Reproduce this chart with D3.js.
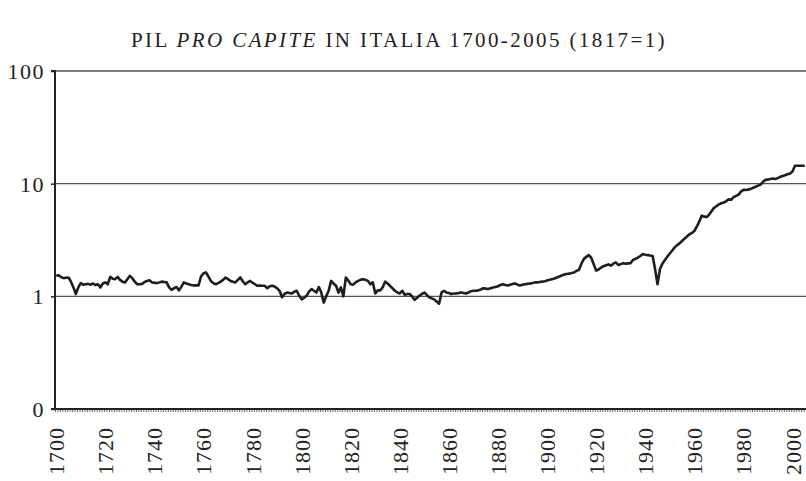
<!DOCTYPE html>
<html><head><meta charset="utf-8">
<script src="https://cdn.jsdelivr.net/npm/d3@7"></script>
<style>body{margin:0;background:#fff}svg{display:block}</style>
</head><body>
<svg id="c" width="806" height="481"></svg>
<script>
const startYear = 1700;
const endYear = 2005;
const labelYears = [1700,1720,1740,1760,1780,1800,1820,1840,1860,1880,1900,1920,1940,1960,1980,2000];
const yTickValues = [0.1, 1, 10, 100];
const yTickLabels = ["0", "1", "10", "100"];
const gdp = [
 1.52,1.54,1.48,1.45,1.46,1.47,1.35,1.2,1.05,1.2,      // 1700
 1.31,1.27,1.28,1.29,1.27,1.30,1.26,1.28,1.2,1.3,      // 1710
 1.33,1.28,1.49,1.43,1.42,1.49,1.40,1.35,1.33,1.42,    // 1720
 1.52,1.45,1.35,1.28,1.28,1.29,1.34,1.37,1.39,1.33,    // 1730
 1.32,1.31,1.33,1.35,1.34,1.33,1.2,1.14,1.18,1.21,     // 1740
 1.13,1.22,1.33,1.3,1.28,1.26,1.25,1.25,1.25,1.5,      // 1750
 1.6,1.63,1.5,1.37,1.31,1.28,1.31,1.35,1.40,1.47,      // 1760
 1.42,1.37,1.35,1.33,1.4,1.47,1.36,1.28,1.33,1.37,     // 1770
 1.32,1.28,1.24,1.25,1.24,1.24,1.18,1.23,1.24,1.22,    // 1780
 1.18,1.12,0.98,1.05,1.08,1.07,1.06,1.1,1.12,1.01,     // 1790
 0.94,0.97,1.01,1.1,1.16,1.12,1.08,1.21,1.08,0.88,     // 1800
 1.0,1.12,1.37,1.3,1.24,1.08,1.2,1.0,1.47,1.38,        // 1810
 1.28,1.27,1.33,1.37,1.40,1.42,1.40,1.37,1.28,1.33,    // 1820
 1.06,1.13,1.13,1.2,1.35,1.3,1.24,1.18,1.12,1.08,      // 1830
 1.06,1.12,1.03,1.05,1.05,1.0,0.93,0.97,1.01,1.05,     // 1840
 1.08,1.03,0.98,0.96,0.94,0.9,0.86,1.08,1.12,1.08,     // 1850
 1.07,1.05,1.06,1.06,1.07,1.08,1.07,1.06,1.08,1.11,    // 1860
 1.12,1.12,1.13,1.15,1.18,1.17,1.16,1.18,1.20,1.21,    // 1870
 1.23,1.26,1.28,1.26,1.25,1.27,1.29,1.30,1.27,1.25,    // 1880
 1.27,1.28,1.29,1.3,1.31,1.33,1.33,1.34,1.35,1.36,     // 1890
 1.38,1.40,1.42,1.44,1.47,1.50,1.53,1.56,1.58,1.59,    // 1900
 1.61,1.63,1.68,1.72,1.95,2.15,2.24,2.32,2.2,1.93,     // 1910
 1.69,1.73,1.80,1.85,1.89,1.92,1.87,1.95,2.0,1.90,     // 1920
 1.93,1.97,1.95,1.96,1.97,2.1,2.15,2.21,2.28,2.37,     // 1930
 2.34,2.32,2.30,2.28,1.75,1.28,1.75,1.95,2.1,2.25,     // 1940
 2.4,2.55,2.72,2.85,2.95,3.1,3.25,3.4,3.55,3.65,       // 1950
 3.8,4.15,4.6,5.2,5.1,5.05,5.3,5.7,6.1,6.3,            // 1960
 6.55,6.7,6.8,7.0,7.25,7.2,7.6,7.8,8.0,8.5,            // 1970
 8.8,8.8,8.85,9.0,9.2,9.4,9.6,9.8,10.4,10.8,           // 1980
 10.9,11.0,11.1,11.0,11.2,11.5,11.7,11.9,12.1,12.3,    // 1990
 12.8,14.4,14.4,14.4,14.4,14.4                         // 2000
];
const years = d3.range(startYear, endYear + 1);
const data = years.map((y, i) => ({year: y, value: gdp[i]}));

const svg = d3.select("#c");
const font = "'Liberation Serif','Times New Roman',serif";
const L = 55, R = 806, T = 71, B = 409;

const x = d3.scaleLinear().domain([startYear - 0.5, endYear + 0.5]).range([L, R]);
const y = d3.scaleLog().domain([0.1, 100]).range([B, T]);

// title
const title = svg.append("text").attr("x", 399).attr("y", 47).attr("text-anchor", "middle")
  .style("font-family", font).style("font-size", "21px").style("letter-spacing", "2.4px").attr("fill", "#222");
title.append("tspan").text("PIL ");
title.append("tspan").style("font-style", "italic").text("PRO CAPITE");
title.append("tspan").text(" IN ITALIA 1700-2005 (1817=1)");

// gridlines
svg.append("g").selectAll("line").data(yTickValues.filter(v => v > 0.1)).join("line")
  .attr("x1", L).attr("x2", R).attr("y1", d => y(d)).attr("y2", d => y(d))
  .attr("stroke", "#555").attr("stroke-width", 1.4);

// y axis
const yAxis = d3.axisLeft(y).tickValues(yTickValues).tickSize(4)
  .tickFormat((d, i) => yTickLabels[i]);
const gy = svg.append("g").attr("transform", `translate(${L},0)`).call(yAxis);
gy.select(".domain").attr("stroke", "#222").attr("stroke-width", 2).attr("d", `M-4,${T}H0V${B}H-4`);
gy.selectAll(".tick line").attr("stroke", "#222").attr("stroke-width", 1.5);
gy.selectAll("text").style("font-family", font).style("font-size", "22px").style("letter-spacing", "1.5px")
  .attr("fill", "#222").attr("x", -10).attr("dy", "0.34em");

// x minor ticks (one per year, between categories)
const boundaries = d3.range(startYear - 0.5, endYear + 1, 1);
const gxm = svg.append("g").attr("transform", `translate(0,${B})`)
  .call(d3.axisBottom(x).tickValues(boundaries).tickSize(3).tickFormat(""));
gxm.select(".domain").remove();
gxm.selectAll(".tick line").attr("stroke", "#444").attr("stroke-width", 0.8);

// x axis line
svg.append("line").attr("x1", L).attr("x2", R).attr("y1", B).attr("y2", B)
  .attr("stroke", "#222").attr("stroke-width", 2);

// x labels
const gx = svg.append("g").attr("transform", `translate(0,${B})`)
  .call(d3.axisBottom(x).tickValues(labelYears).tickSize(0).tickFormat(d3.format("d")));
gx.select(".domain").remove();
gx.selectAll("text")
  .style("font-family", font).style("font-size", "22px").style("letter-spacing", "1px").attr("fill", "#222")
  .attr("text-anchor", "end").attr("y", 0).attr("dy", 0)
  .attr("transform", "translate(7.5,18) rotate(-90)");

// data line
const line = d3.line().x(d => x(d.year)).y(d => y(d.value));
svg.append("path").datum(data).attr("d", line).attr("fill", "none")
  .attr("stroke", "#1e1e1e").attr("stroke-width", 2.6).attr("stroke-linejoin", "round");
</script>
</body></html>
